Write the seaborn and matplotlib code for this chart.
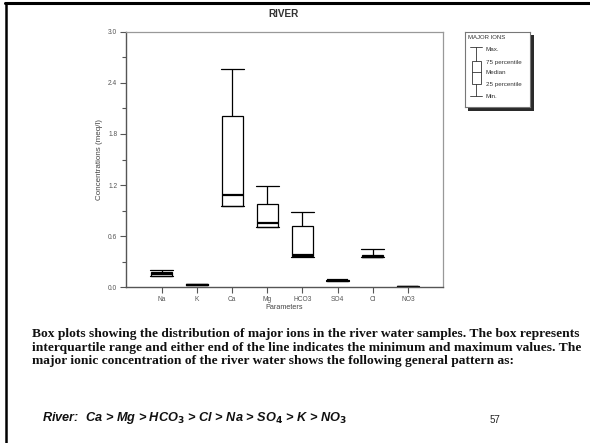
import matplotlib
matplotlib.use("Agg")
import matplotlib.pyplot as plt
import seaborn as sns
import pandas as pd
import numpy as np
from matplotlib.lines import Line2D
from matplotlib.patches import Rectangle

# ---- data ----
ions = ["Na", "K", "Ca", "Mg", "HCO3", "SO4", "Cl", "NO3"]
ion_min = [0.13, 0.025, 0.95, 0.71, 0.36, 0.075, 0.35, 0.003]
ion_q1 = [0.135, 0.025, 0.955, 0.71, 0.365, 0.075, 0.352, 0.003]
ion_med = [0.16, 0.03, 1.08, 0.76, 0.38, 0.08, 0.36, 0.006]
ion_q3 = [0.185, 0.04, 2.01, 0.975, 0.72, 0.09, 0.38, 0.01]
ion_max = [0.20, 0.04, 2.56, 1.19, 0.88, 0.09, 0.45, 0.01]
y_ticks = [0.0, 0.6, 1.2, 1.8, 2.4, 3.0]
legend_labels = ["Max.", "75 percentile", "Median", "25 percentile", "Min."]

rows = []
for i, ion in enumerate(ions):
    for v in (ion_min[i], ion_q1[i], ion_med[i], ion_q3[i], ion_max[i]):
        rows.append({"Parameters": ion, "Concentration": v})
df = pd.DataFrame(rows)

sns.set_theme(style="white")
plt.rcParams["font.family"] = ["Liberation Sans", "DejaVu Sans"]

fig = plt.figure(figsize=(5.9, 4.43), dpi=100)
ax = fig.add_axes([0.213, 0.3515, 0.538, 0.5769])

kw = dict(data=df, x="Parameters", y="Concentration", order=ions,
          whis=(0, 100), width=0.6, color="white", linecolor="black",
          linewidth=0.9, medianprops=dict(linewidth=1.6, color="black"),
          ax=ax, showfliers=False)
try:
    sns.boxplot(capwidths=0.65, **kw)
except Exception:
    sns.boxplot(**kw)

ax.set_xlim(-1.03, 8.0)
ax.set_ylim(0, 3.0)
ax.set_yticks(y_ticks)
ax.set_yticklabels([f"{t:.1f}" for t in y_ticks])
ax.set_yticks(np.arange(0.3, 3.0, 0.6), minor=True)
ax.tick_params(axis="both", which="major", direction="out", length=4,
               width=0.8, color="#555555", labelsize=4.8, labelcolor="#555555",
               pad=2, left=True, bottom=True)
ax.tick_params(axis="y", which="minor", direction="out", length=3,
               width=0.8, color="#555555", left=True)
for s in ["left", "bottom"]:
    ax.spines[s].set_color("#555555")
    ax.spines[s].set_linewidth(1.0)
for s in ["top", "right"]:
    ax.spines[s].set_color("#999999")
    ax.spines[s].set_linewidth(0.9)
ax.set_ylabel("Concentrations (meq/l)", fontsize=5.8, color="#444444", labelpad=4)
ax.set_xlabel("Parameters", fontsize=5.2, color="#444444", labelpad=1)

fig.text(0.48, 0.968, "RIVER", ha="center", va="center", fontsize=7.2,
         fontweight="bold", color="#333333")

# ---- legend key ----
lx, ly, lw, lh = 0.788, 0.758, 0.111, 0.170
shadow = Rectangle((lx + 0.006, ly - 0.008), lw, lh, transform=fig.transFigure,
                   facecolor="#2a2a2a", edgecolor="none", zorder=-1)
fig.add_artist(shadow)
lax = fig.add_axes([lx, ly, lw, lh])
lax.set_zorder(3)
lax.set_xlim(0, 1)
lax.set_ylim(0, 1)
lax.set_xticks([])
lax.set_yticks([])
lax.set_facecolor("white")
for s in lax.spines.values():
    s.set_color("#777777")
    s.set_linewidth(0.8)
lax.text(0.04, 0.92, "MAJOR IONS", fontsize=4.3, color="#333333", va="center")
bx = 0.175
c = "#333333"
lax.plot([bx, bx], [0.147, 0.307], color=c, lw=0.6)
lax.plot([bx, bx], [0.617, 0.80], color=c, lw=0.6)
lax.plot([bx - 0.09, bx + 0.09], [0.80, 0.80], color=c, lw=0.6)
lax.plot([bx - 0.09, bx + 0.09], [0.147, 0.147], color=c, lw=0.6)
lax.add_patch(Rectangle((bx - 0.065, 0.307), 0.13, 0.31, facecolor="white",
                        edgecolor=c, lw=0.6))
lax.plot([bx - 0.065, bx + 0.065], [0.463, 0.463], color=c, lw=0.6)
for lab, yy in zip(legend_labels, [0.76, 0.60, 0.467, 0.307, 0.147]):
    lax.text(0.32, yy, lab, fontsize=4.5, color=c, va="center")

# ---- caption ----
cap_lines = [
    "Box plots showing the distribution of major ions in the river water samples. The box represents",
    "interquartile range and either end of the line indicates the minimum and maximum values. The",
    "major ionic concentration of the river water shows the following general pattern as:",
]
for t, yy in zip(cap_lines, [334, 348, 361]):
    fig.text(0.054, 1 - yy / 443, t, fontsize=9.7, fontweight="bold",
             family=["Liberation Serif", "DejaVu Serif"], va="center", ha="left",
             color="#111111")

fig.text(0.071, 1 - 418 / 443,
         r"River:  Ca > Mg > HCO$_\mathbf{3}$ > Cl > Na > SO$_\mathbf{4}$ > K > NO$_\mathbf{3}$",
         fontsize=9.2, fontweight="bold", fontstyle="italic", va="center", ha="left",
         color="#111111")
fig.text(0.839, 1 - 420 / 443, "57", fontsize=7, va="center", ha="center")

# slide border
fig.add_artist(Line2D([0.008, 1.0], [0.993, 0.993], transform=fig.transFigure,
                      color="black", lw=2.2))
fig.add_artist(Line2D([0.0105, 0.0105], [0.0, 0.993], transform=fig.transFigure,
                      color="black", lw=1.8))

fig.savefig("out.png", dpi=100)
